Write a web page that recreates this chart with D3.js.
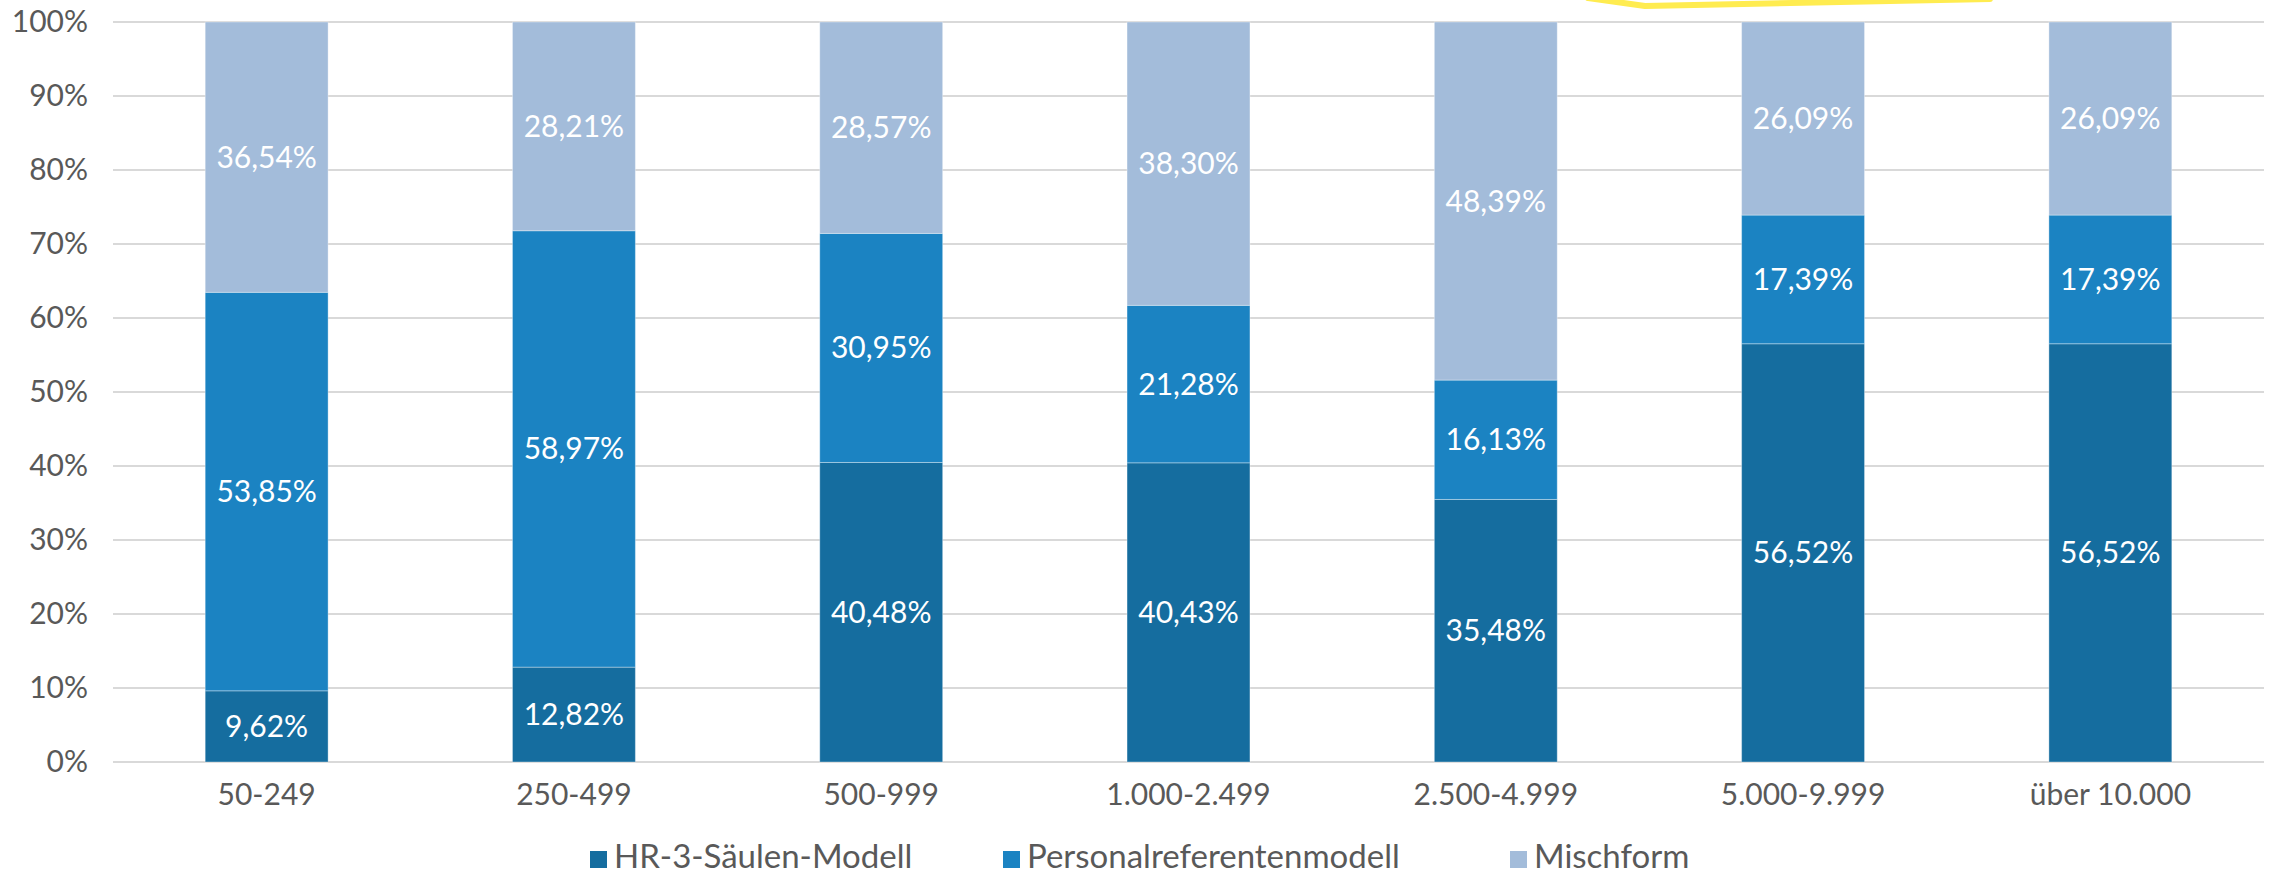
<!DOCTYPE html>
<html>
<head>
<meta charset="utf-8">
<script src="https://cdn.jsdelivr.net/npm/d3@7"></script>
<style>
  html, body { margin: 0; padding: 0; background: #fff; }
  svg { display: block; }
  text { font-family: Lato, "Open Sans", sans-serif; }
</style>
</head>
<body>
<svg id="chart" width="2272" height="876"></svg>
<script>
// Company size classes (employees)
const categories = ["50-249", "250-499", "500-999", "1.000-2.499", "2.500-4.999", "5.000-9.999", "über 10.000"];

// Share of each HR organisation model per size class, in percent
const hr3Saeulen = [9.62, 12.82, 40.48, 40.43, 35.48, 56.52, 56.52];
const personalreferenten = [53.85, 58.97, 30.95, 21.28, 16.13, 17.39, 17.39];
const mischform = [36.54, 28.21, 28.57, 38.30, 48.39, 26.09, 26.09];

const seriesNames = ["HR-3-Säulen-Modell", "Personalreferentenmodell", "Mischform"];
const seriesColors = ["#156d9f", "#1b83c2", "#a3bcda"];

const yTicks = [0, 10, 20, 30, 40, 50, 60, 70, 80, 90, 100];

const rows = categories.map((c, i) => ({
  cat: c,
  [seriesNames[0]]: hr3Saeulen[i],
  [seriesNames[1]]: personalreferenten[i],
  [seriesNames[2]]: mischform[i]
}));

const svg = d3.select("#chart");
const plot = { left: 113, right: 2264, top: 22, bottom: 762 };

const x = d3.scaleBand()
  .domain(categories)
  .range([plot.left, plot.right])
  .paddingInner(0.6)
  .paddingOuter(0.3);

const y = d3.scaleLinear()
  .domain([0, 100])
  .range([plot.bottom, plot.top]);

const fmt = v => v.toFixed(2).replace(".", ",") + "%";

// Horizontal gridlines
svg.append("g")
  .selectAll("line")
  .data(yTicks)
  .join("line")
  .attr("x1", plot.left)
  .attr("x2", plot.right)
  .attr("y1", d => y(d))
  .attr("y2", d => y(d))
  .attr("stroke", "#d9d9d9")
  .attr("stroke-width", 2);

// Y axis labels
const yAxis = d3.axisLeft(y)
  .tickValues(yTicks)
  .tickFormat(d => d + "%")
  .tickSize(0)
  .tickPadding(25);
const yg = svg.append("g")
  .attr("transform", `translate(${plot.left},0)`)
  .call(yAxis);
yg.select(".domain").remove();
yg.selectAll("text")
  .attr("fill", "#595959")
  .style("font-size", "30px")
  .style("font-family", "Lato, 'Open Sans', sans-serif");

// Stacked bars
const stack = d3.stack().keys(seriesNames);
const stacked = stack(rows);

const layers = svg.append("g")
  .selectAll("g")
  .data(stacked)
  .join("g")
  .attr("fill", (d, i) => seriesColors[i]);

layers.selectAll("rect")
  .data(d => d)
  .join("rect")
  .attr("x", d => x(d.data.cat))
  .attr("width", x.bandwidth())
  .attr("y", d => y(Math.min(d[1], 100)))
  .attr("height", d => y(d[0]) - y(Math.min(d[1], 100)))
  .attr("stroke", "#ffffff")
  .attr("stroke-opacity", 0.35)
  .attr("stroke-width", 1);

// Value labels centred in each segment
layers.selectAll("text")
  .data(d => d.map(s => ({ s, key: d.key })))
  .join("text")
  .attr("x", d => x(d.s.data.cat) + x.bandwidth() / 2)
  .attr("y", d => (y(d.s[0]) + y(Math.min(d.s[1], 100))) / 2)
  .attr("dy", "0.35em")
  .attr("text-anchor", "middle")
  .attr("fill", "#ffffff")
  .style("font-size", "30px")
  .text(d => fmt(d.s.data[d.key]));

// X axis labels
const xAxis = d3.axisBottom(x).tickSize(0).tickPadding(22);
const xg = svg.append("g")
  .attr("transform", `translate(0,${plot.bottom})`)
  .call(xAxis);
xg.select(".domain").remove();
xg.selectAll("text")
  .attr("fill", "#595959")
  .style("font-size", "30px")
  .style("font-family", "Lato, 'Open Sans', sans-serif");

// Legend
const legendX = [590, 1003, 1510];
const items = svg.append("g")
  .selectAll("g")
  .data(seriesNames)
  .join("g")
  .attr("transform", (d, i) => `translate(${legendX[i]},0)`);
items.append("rect")
  .attr("y", 851)
  .attr("width", 17)
  .attr("height", 17)
  .attr("fill", (d, i) => seriesColors[i]);
items.append("text")
  .attr("x", 24)
  .attr("y", 868)
  .attr("fill", "#595959")
  .style("font-size", "33px")
  .text(d => d);

// Yellow highlight stroke at the top edge
svg.append("path")
  .attr("d", d3.line()([[1588, -2], [1645, 6], [1990, -1]]))
  .attr("fill", "none")
  .attr("stroke", "#ffec50")
  .attr("stroke-width", 6)
  .attr("stroke-linejoin", "round")
  .attr("stroke-linecap", "round");
</script>
</body>
</html>
